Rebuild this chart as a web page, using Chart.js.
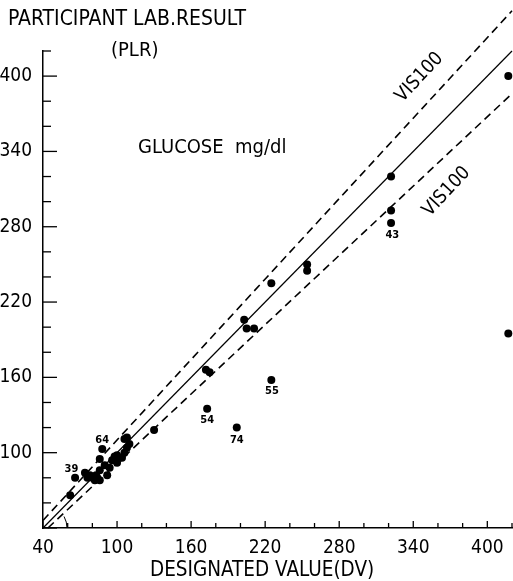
<!DOCTYPE html>
<html>
<head>
<meta charset="utf-8">
<script src="https://cdn.jsdelivr.net/npm/chart.js@4"></script>
<style>
  html, body { margin: 0; padding: 0; background: #fff; }
  #wrap { width: 513px; height: 581px; position: relative; }
</style>
</head>
<body>
<div id="wrap"><canvas id="glucoseChart"></canvas></div>
<script>
// designated value (DV) vs participant lab result (PLR), glucose mg/dl
const dvValues = [62, 66, 74, 76, 78, 80, 82, 84, 86, 83, 86, 90, 92, 94, 96, 98, 100, 102, 104, 100, 106, 108, 110, 106, 108,
                  86, 88, 130, 172, 175, 203, 205, 211, 225, 254, 254, 322, 322, 322, 417, 417, 225, 173, 197];
const plrValues = [66, 80, 84, 80, 82, 80, 78, 80, 78, 82, 86, 90, 82, 88, 94, 97, 98, 96, 96, 92, 100, 104, 107, 111, 112,
                   95, 103, 118, 166, 164, 206, 199, 199, 235, 250, 245, 320, 293, 283, 400, 195, 158, 135, 120];

// reference lines: identity and the two VIS 100 limits
const identityX = [40, 420];
const identityY = [40, 420];
const upperX = [40, 420];
const upperY = [46, 452];
const lowerX = [44, 420];
const lowerY = [40, 386];

const axisMin = 40;
const axisMax = 420;
const labelledTicks = [40, 100, 160, 220, 280, 340, 400];

// numbered outliers
const outlierNames = ['39', '64', '54', '74', '55', '43'];
const outlierX = [63, 88, 173, 197, 225.5, 323];
const outlierY = [87, 110, 126, 110, 149, 273];

const FONT = "'DejaVu Sans Condensed', 'Liberation Sans Narrow', 'DejaVu Sans', sans-serif";

function toPoints(xs, ys) {
    return xs.map((x, i) => ({ x: x, y: ys[i] }));
}

const extras = {
    id: 'extras',
    afterDraw(chart) {
        const ctx = chart.ctx;
        const xs = chart.scales.x;
        const ys = chart.scales.y;
        const area = chart.chartArea;
        ctx.save();
        ctx.strokeStyle = '#000';
        ctx.fillStyle = '#000';
        ctx.lineWidth = 1.3;

        // inward tick marks
        for (let v = axisMin; v <= axisMax; v += 20) {
            const major = labelledTicks.includes(v);
            const px = xs.getPixelForValue(v);
            ctx.beginPath();
            ctx.moveTo(px, area.bottom);
            ctx.lineTo(px, area.bottom - (major ? 7 : 5));
            ctx.stroke();
            const py = ys.getPixelForValue(v);
            ctx.beginPath();
            ctx.moveTo(area.left, py);
            ctx.lineTo(area.left + (major ? 14 : 8), py);
            ctx.stroke();
        }

        // small angle arc at the origin
        ctx.lineWidth = 1;
        ctx.beginPath();
        ctx.arc(xs.getPixelForValue(axisMin), ys.getPixelForValue(axisMin), 24, -0.5, 0);
        ctx.stroke();

        // outlier numbers
        ctx.font = "bold 11px " + FONT;
        ctx.textAlign = 'center';
        ctx.textBaseline = 'middle';
        outlierNames.forEach((t, i) => {
            ctx.fillText(t, xs.getPixelForValue(outlierX[i]), ys.getPixelForValue(outlierY[i]));
        });

        // VIS100 labels along the dashed lines
        ctx.font = "19px " + FONT;
        [[345, 399], [367, 308]].forEach(p => {
            ctx.save();
            ctx.translate(xs.getPixelForValue(p[0]), ys.getPixelForValue(p[1]));
            ctx.rotate(-47 * Math.PI / 180);
            ctx.fillText('VIS100', 0, 0);
            ctx.restore();
        });

        // titles
        ctx.textAlign = 'left';
        ctx.textBaseline = 'alphabetic';
        ctx.font = "21px " + FONT;
        ctx.fillText('PARTICIPANT LAB.RESULT', 8, 25);
        ctx.font = "20px " + FONT;
        ctx.fillText('(PLR)', 111, 56);
        ctx.fillText('GLUCOSE  mg/dl', 138, 153);
        ctx.font = "20.5px " + FONT;
        ctx.fillText('DESIGNATED VALUE(DV)', 150, 576);
        ctx.restore();
    }
};

const lineStyle = {
    showLine: true,
    pointRadius: 0,
    borderColor: '#000',
    fill: false,
    clip: false
};

new Chart(document.getElementById('glucoseChart').getContext('2d'), {
    type: 'scatter',
    data: {
        datasets: [
            Object.assign({ label: 'identity', data: toPoints(identityX, identityY), borderWidth: 1.2 }, lineStyle),
            Object.assign({ label: 'VIS100 upper', data: toPoints(upperX, upperY), borderWidth: 1.6, borderDash: [8, 5] }, lineStyle),
            Object.assign({ label: 'VIS100 lower', data: toPoints(lowerX, lowerY), borderWidth: 1.6, borderDash: [8, 5] }, lineStyle),
            {
                label: 'labs',
                data: toPoints(dvValues, plrValues),
                backgroundColor: '#000',
                borderWidth: 0,
                pointRadius: 4,
                clip: false
            }
        ]
    },
    options: {
        responsive: true,
        maintainAspectRatio: false,
        animation: false,
        layout: { autoPadding: false, padding: { top: 51, right: 0, bottom: 0, left: 0 } },
        plugins: {
            legend: { display: false },
            tooltip: { enabled: false }
        },
        scales: {
            x: {
                type: 'linear',
                min: axisMin,
                max: axisMax,
                afterFit: function (scale) { scale.height = 53; },
                grid: { display: false },
                border: { display: true, color: '#000', width: 1.5 },
                ticks: {
                    stepSize: 20,
                    autoSkip: false,
                    maxRotation: 0,
                    padding: 1,
                    color: '#000',
                    font: { family: FONT, size: 19 },
                    callback: v => labelledTicks.includes(v) ? String(v) : ''
                }
            },
            y: {
                type: 'linear',
                min: axisMin,
                max: axisMax,
                afterFit: function (scale) { scale.width = 43; },
                grid: { display: false },
                border: { display: true, color: '#000', width: 1.5 },
                ticks: {
                    stepSize: 20,
                    autoSkip: false,
                    padding: 3,
                    color: '#000',
                    font: { family: FONT, size: 19 },
                    callback: v => (labelledTicks.includes(v) && v !== axisMin) ? String(v) : ''
                }
            }
        }
    },
    plugins: [extras]
});
</script>
</body>
</html>
